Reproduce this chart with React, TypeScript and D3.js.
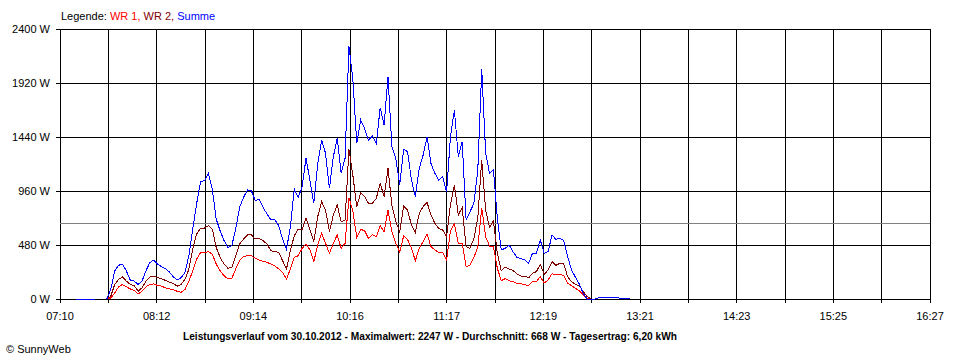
import React from "react";
import * as d3 from "d3";

// samples every 2.5 minutes starting at 07:20 (null = no data)
const startMinute = 7 * 60 + 20;
const stepMinutes = 2.5;

const wr1 = [
  null, null, null, null, null, null, null, null,
  0, 9, 54, 108, 129, 108, 90, 75, 45, 69,
  108, 129, 135, 120, 114, 99, 90, 84, 69, 60,
  84, 159, 249, 354, 414, 409, 421, 400, 311, 252,
  207, 178, 184, 267, 341, 376, 385, 385, 361, 347,
  335, 326, 311, 296, 267, 237, 178, 267, 370, 385,
  450, 489, 436, 332, 480, 584, 495, 406, 495, 569,
  450, 495, 900, 780, 548, 619, 607, 539, 570, 554,
  650, 598, 791, 598, 495, 418, 560, 530, 450, 341,
  450, 510, 578, 465, 436, 415, 412, 347, 607, 667,
  495, 495, 287, 302, 370, 460, 810, 554, 471, 465,
  273, 163, 181, 163, 154, 139, 136, 127, 121, 154,
  154, 199, 142, 169, 225, 213, 216, 210, 139, 119,
  95, 74, 36, 6, 0,
];

const wr2 = [
  null, null, null, null, null, null, null, null,
  0, 24, 129, 174, 195, 159, 129, 120, 69, 99,
  159, 195, 204, 189, 180, 165, 150, 138, 114, 129,
  174, 264, 444, 579, 630, 631, 652, 622, 459, 370,
  311, 273, 281, 385, 489, 533, 569, 569, 533, 539,
  519, 489, 430, 421, 415, 341, 267, 430, 563, 622,
  613, 717, 613, 510, 732, 865, 791, 598, 747, 836,
  687, 702, 1330, 1100, 821, 945, 910, 850, 850, 895,
  1028, 910, 1161, 830, 687, 598, 827, 791, 658, 590,
  761, 821, 859, 747, 673, 628, 613, 554, 842, 1013,
  747, 815, 465, 450, 539, 720, 1236, 791, 637, 696,
  406, 252, 284, 267, 255, 222, 204, 204, 187, 228,
  243, 308, 219, 258, 332, 299, 317, 311, 199, 154,
  130, 119, 65, 21, 0,
];

const summe = [
  0, 0, 0, 0, 0, 0, null, null,
  0, 84, 249, 300, 309, 249, 168, 159, 129, 159,
  249, 324, 345, 309, 288, 270, 240, 198, 168, 189,
  234, 384, 624, 849, 1044, 1052, 1117, 978, 711, 607,
  519, 459, 474, 622, 815, 904, 969, 963, 874, 889,
  815, 756, 705, 705, 652, 533, 444, 637, 978, 900,
  1000, 1250, 1058, 850, 1206, 1413, 1295, 984, 1265, 1428,
  1117, 1250, 2247, 1950, 1384, 1591, 1517, 1413, 1450, 1384,
  1700, 1547, 1976, 1350, 1250, 1013, 1330, 1310, 1060, 910,
  1162, 1280, 1443, 1206, 1117, 1058, 1087, 950, 1443, 1680,
  1265, 1399, 702, 776, 850, 1150, 2040, 1300, 1117, 1150,
  717, 436, 450, 480, 421, 370, 361, 347, 317, 406,
  406, 524, 406, 421, 569, 530, 539, 519, 376, 258,
  193, 133, 50, 0, 0, 0, 12, 15, 15, 12,
  12, 10, 5, 5, 5,
];

const timeLabels = ["07:10", "08:12", "09:14", "10:16", "11:17", "12:19", "13:21", "14:23", "15:25", "16:27"];
const yTicks = [0, 480, 960, 1440, 1920, 2400];
const averageValue = 668;
const titleText =
  "Leistungsverlauf vom 30.10.2012 - Maximalwert: 2247 W - Durchschnitt: 668 W - Tagesertrag: 6,20 kWh";

const font = "'Liberation Sans', Arial, sans-serif";

export default function App() {
  const left = 60, right = 930, top = 29, bottom = 299;
  const x = d3.scaleLinear().domain([7 * 60 + 10, 16 * 60 + 27]).range([left, right]);
  const y = d3.scaleLinear().domain([0, 2400]).range([bottom, top]);
  const gridCount = (timeLabels.length - 1) * 2;
  const xGrid = d3.scaleLinear().domain([0, gridCount]).range([left, right]);
  const gridIdx = d3.range(gridCount + 1);

  const line = d3
    .line<number | null>()
    .defined((d) => d != null)
    .x((_, i) => x(startMinute + i * stepMinutes))
    .y((d) => y(d as number));

  const series = [
    { name: "WR 1", values: wr1, color: "#ff0000" },
    { name: "WR 2", values: wr2, color: "#800000" },
    { name: "Summe", values: summe, color: "#0000ff" },
  ];

  return (
    <svg
      width={960}
      height={360}
      style={{ position: "absolute", left: 0, top: 0, background: "#fff" }}
      fontFamily={font}
      fontSize={11}
    >
      <g shapeRendering="crispEdges" stroke="#000" strokeWidth={1}>
        {yTicks.map((t) => (
          <line key={t} x1={left - 4} x2={right} y1={y(t)} y2={y(t)} />
        ))}
        {gridIdx.map((k) => (
          <line key={k} x1={xGrid(k)} x2={xGrid(k)} y1={top} y2={bottom + 4} />
        ))}
      </g>
      <line
        x1={left}
        x2={right}
        y1={y(averageValue)}
        y2={y(averageValue)}
        stroke="#808080"
        shapeRendering="crispEdges"
      />
      {yTicks.map((t) => (
        <text key={t} x={50} y={y(t)} dy="0.35em" textAnchor="end">
          {t} W
        </text>
      ))}
      {timeLabels.map((lbl, i) => (
        <text key={lbl} x={xGrid(i * 2)} y={320} textAnchor="middle">
          {lbl}
        </text>
      ))}
      {series.map((s) => (
        <path
          key={s.name}
          d={line(s.values) || ""}
          fill="none"
          stroke={s.color}
          strokeWidth={1}
          shapeRendering="crispEdges"
        />
      ))}
      <text x={61} y={20}>
        <tspan fill="#000">Legende: </tspan>
        <tspan fill="#ff0000">WR 1, </tspan>
        <tspan fill="#800000">WR 2, </tspan>
        <tspan fill="#0000ff">Summe</tspan>
      </text>
      <text
        x={183}
        y={340}
        fontWeight="bold"
        textLength={494}
        lengthAdjust="spacingAndGlyphs"
      >
        {titleText}
      </text>
      <text x={6} y={353}>
        © SunnyWeb
      </text>
    </svg>
  );
}
